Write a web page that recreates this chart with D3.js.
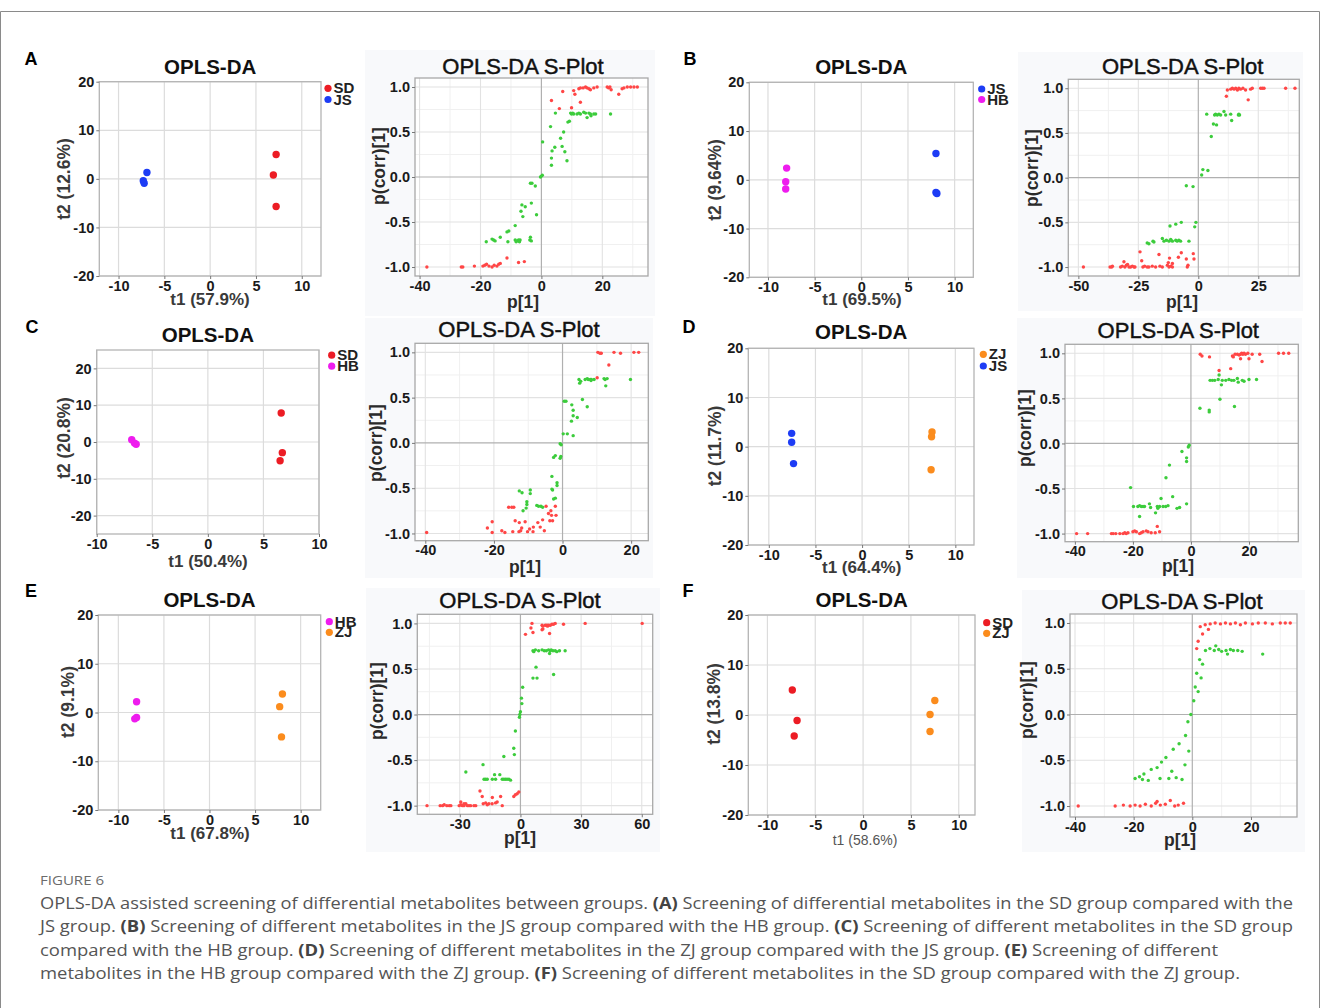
<!DOCTYPE html>
<html><head><meta charset="utf-8">
<script src="https://cdn.jsdelivr.net/npm/d3@7"></script>
<style>body{margin:0;background:#fff} svg{display:block}</style>
</head><body><svg id="c" width="1320" height="1008"></svg>
<script>
// ---------------- DATA ----------------
// Score plots (t1, t2)
const scoreA_SD = [[7.2,5.0],[6.9,0.8],[7.2,-5.7]];
const scoreA_JS = [[-6.9,1.3],[-7.3,-0.4],[-7.2,-0.9]];
const scoreB_JS = [[8.0,5.4],[8.0,-2.6],[8.1,-2.8]];
const scoreB_HB = [[-8.0,2.4],[-8.1,-0.4],[-8.1,-1.9]];
const scoreC_SD = [[6.6,7.9],[6.7,-2.9],[6.5,-5.1]];
const scoreC_HB = [[-6.85,0.6],[-6.6,-0.3],[-6.45,-0.6]];
const scoreD_ZJ = [[7.5,3.0],[7.45,2.0],[7.4,-4.7]];
const scoreD_JS = [[-7.55,2.7],[-7.55,0.9],[-7.35,-3.45]];
const scoreE_HB = [[-8.0,2.2],[-8.0,-1.0],[-8.2,-1.3]];
const scoreE_ZJ = [[8.0,3.8],[7.7,1.2],[7.9,-5.0]];
const scoreF_SD = [[-7.4,5.0],[-6.9,-1.1],[-7.2,-4.2]];
const scoreF_ZJ = [[7.5,2.9],[7.0,0.1],[7.0,-3.3]];

const legendA = ["SD","JS"], legendB = ["JS","HB"], legendC = ["SD","HB"];
const legendD = ["ZJ","JS"], legendE = ["HB","ZJ"], legendF = ["SD","ZJ"];
const axisLabelsX = ["t1 (57.9%)","t1 (69.5%)","t1 (50.4%)","t1 (64.4%)","t1 (67.8%)","t1 (58.6%)"];
const axisLabelsY = ["t2 (12.6%)","t2 (9.64%)","t2 (20.8%)","t2 (11.7%)","t2 (9.1%)","t2 (13.8%)"];
const panelLetters = ["A","B","C","D","E","F"];

const scoreTicksX = [-10,-5,0,5,10];
const scoreTicksY = [-20,-10,0,10,20];
const splotTicksY = [-1.0,-0.5,0.0,0.5,1.0];
const splotMinorY = [-0.75,-0.25,0.25,0.75];
const splotTicksX_A = [-40,-20,0,20], splotMinorX_A = [-30,-10,10,30];
const splotTicksX_B = [-50,-25,0,25], splotMinorX_B = [-37.5,-12.5,12.5,37.5];
const splotTicksX_C = [-40,-20,0,20], splotMinorX_C = [-30,-10,10];
const splotTicksX_D = [-40,-20,0,20], splotMinorX_D = [-30,-10,10,30];
const splotTicksX_E = [-30,0,30,60], splotMinorX_E = [-45,-15,15,45];
const splotTicksX_F = [-40,-20,0,20], splotMinorX_F = [-30,-10,10,30];

// S-plot points (p[1], p(corr)[1])
const splotA_red = [[7.0,0.95],[10.6,0.96],[11.0,0.92],[12.3,0.98],[12.8,0.99],[13.7,0.99],[14.5,1.0],[15.0,0.99],[15.6,0.98],[16.1,0.97],[17.2,0.99],[18.3,1.0],[21.6,1.0],[22.1,0.99],[22.5,1.0],[22.9,0.97],[25.4,0.92],[26.5,0.98],[27.1,0.99],[28.2,1.0],[29.3,1.0],[30.4,1.0],[31.5,1.0],[3.3,0.85],[5.9,0.76],[9.9,0.77],[12.8,0.83],
 [-37.6,-1.0],[-26.3,-1.0],[-25.8,-1.0],[-22,-0.99],[-19.2,-0.99],[-18.6,-0.98],[-18.0,-0.97],[-17.2,-0.99],[-16.2,-1.0],[-15.5,-0.98],[-14.6,-0.99],[-14.0,-0.97],[-13.5,-0.96],[-11.3,-0.9],[-7.5,-0.95],[-5.6,-0.94]];
const splotA_green = [[4.6,0.71],[9.6,0.71],[9.9,0.70],[10.3,0.71],[10.6,0.70],[11.7,0.70],[12.3,0.71],[12.8,0.70],[13.9,0.72],[14.5,0.71],[15.0,0.66],[15.6,0.71],[16.1,0.70],[17.2,0.70],[17.8,0.70],[22.7,0.70],[16.3,0.68],
 [3.0,0.56],[0.4,0.39],[3.5,0.29],[4.4,0.33],[3.3,0.21],[3.3,0.13],[6.3,0.43],[7.3,0.50],[6.8,0.34],[7.7,0.28],[8.4,0.18],[8.7,0.61],[9.2,0.62],
 [-0.3,0.0],[0.0,0.01],[0.3,0.02],
 [-3.6,-0.07],[-3.1,-0.07],[-2.0,-0.10],[-1.6,-0.42],[-3.3,-0.29],[-6.4,-0.31],[-5.3,-0.33],[-6.7,-0.38],[-6.1,-0.44],[-8.6,-0.54],[-10.7,-0.60],[-11.3,-0.61],[-13.5,-0.67],[-11.0,-0.72],[-8.6,-0.70],[-8.0,-0.71],[-7.5,-0.70],[-7.0,-0.70],[-8.3,-0.72],[-7.2,-0.72],[-3.6,-0.67],[-3.3,-0.71],[-3.8,-0.70],[-18.1,-0.72],[-16.2,-0.69],[-15.7,-0.70],[-15.2,-0.71]];

const splotB_red = [[12.1,0.98],[13.5,0.99],[14.2,1.0],[14.9,0.99],[15.6,1.0],[16.3,0.98],[16.9,1.0],[17.6,0.99],[18.6,1.0],[19.7,0.98],[21.8,0.99],[22.5,1.0],[26.0,1.0],[26.7,1.0],[27.4,1.0],[36.4,1.0],[40.3,1.0],[11.7,0.91],[20.8,0.87],
 [-47.9,-1.0],[-36.8,-1.0],[-36.1,-1.0],[-35.8,-0.99],[-32.4,-1.0],[-31.7,-0.99],[-30.6,-1.0],[-30.0,-0.98],[-28.9,-1.0],[-28.2,-1.0],[-27.5,-0.99],[-26.8,-1.0],[-26.4,-1.0],[-23.1,-1.0],[-22.4,-0.99],[-21.3,-1.0],[-20.6,-1.0],[-19.2,-0.99],[-17.8,-1.0],[-16.0,-0.99],[-15.0,-1.0],[-12.9,-0.98],[-12.2,-1.0],[-11.5,-0.99],[-10.8,-1.0],[-4.6,-1.0],
 [-24.3,-0.83],[-31,-0.94],[-29.5,-0.97],[-23.6,-0.93],[-16.4,-0.86],[-12,-0.9],[-12.5,-0.95],[-8.3,-0.89],[-7.1,-0.84],[-5,-0.91],[-2.1,-0.85],[-1.8,-0.91],[-4.3,-0.98],[-10.8,-0.96]];
const splotB_green = [[3.5,0.71],[6.8,0.70],[7.2,0.71],[7.9,0.70],[8.6,0.71],[9.3,0.70],[10.7,0.74],[11.4,0.70],[13.5,0.71],[16.7,0.70],[16.9,0.71],[17.2,0.70],
 [6.3,0.60],[7.6,0.59],[5.4,0.46],[13.9,0.64],[1.4,0.03],[1.9,0.09],[4.0,0.08],
 [-5,-0.09],[-2.2,-0.10],[-1,-0.50],[-1.5,-0.55],[-7.1,-0.50],[-9.4,-0.52],[-11.8,-0.54],
 [-21.3,-0.73],[-20.6,-0.74],[-18.9,-0.71],[-18.5,-0.72],[-15.0,-0.68],[-14.3,-0.71],[-13.3,-0.70],[-12.2,-0.71],[-11.5,-0.69],[-10.8,-0.71],[-9.4,-0.70],[-8.8,-0.71],[-8.1,-0.70],[-7.4,-0.71],[-3.9,-0.71]];

const splotC_red = [[10.3,1.0],[10.9,0.99],[11.3,0.99],[15.0,1.0],[16.9,0.99],[20.8,1.0],[22.2,1.0],[13.5,0.86],[10.1,0.72],
 [-39.6,-0.99],[-21.9,-0.94],[-20.5,-0.87],[-20.5,-0.99],[-17.7,-0.97],[-15.7,-0.71],[-14.8,-0.71],[-14.2,-0.71],[-14.5,-0.98],[-13.8,-0.86],[-12.7,-0.98],[-12.2,-0.97],[-11.9,-0.94],[-10.9,-0.87],[-10.2,-0.98],[-9.6,-0.95],[-8.5,-0.93],[-8.6,-0.98],[-12.6,-0.88],[-7.2,-0.88],[-5.8,-0.85],[-5.3,-0.97],[-4.8,-0.70],[-4.1,-0.78],[-3.4,-0.75],[-3.2,-0.80],[-2.9,-0.86],[-3.7,-0.86],[-1.9,-0.80],[-2.1,-0.70],[-6.5,-0.93],[-16.8,-0.99]];
const splotC_green = [[4.8,0.70],[5.0,0.66],[6.6,0.70],[7.2,0.71],[7.5,0.70],[8.1,0.70],[8.3,0.69],[8.4,0.70],[9.2,0.70],[12.1,0.71],[12.4,0.70],[13.0,0.71],[19.8,0.70],[5.3,0.68],[12.6,0.63],
 [0.5,0.46],[1.0,0.46],[2.7,0.42],[3.1,0.36],[3.1,0.30],[4.3,0.28],[2.6,0.24],[5.8,0.48],[7.2,0.40],[0.2,0.10],[1.4,0.10],[3.1,0.08],
 [-0.7,-0.01],[-0.4,-0.02],
 [-2.1,-0.14],[-2.6,-0.16],[-0.7,-0.17],[-0.5,-0.15],[-3.1,-0.37],[-1.6,-0.44],[-1.6,-0.47],[-3.1,-0.51],[-2.9,-0.52],[-2.6,-0.62],[-2.1,-0.61],[-12.6,-0.53],[-11.8,-0.55],[-9.4,-0.52],[-9.4,-0.56],[-10.4,-0.65],[-10.4,-0.68],[-10.6,-0.72],[-7.5,-0.69],[-7.0,-0.70],[-6.3,-0.70],[-5.8,-0.71],[-11.5,-0.75]];

const splotD_red = [[3.2,0.99],[3.8,0.97],[6.4,0.96],[14.3,0.97],[14.6,0.96],[15.2,0.99],[16.0,0.99],[16.6,0.98],[17.1,0.99],[17.5,1.0],[17.9,0.99],[18.3,1.0],[18.8,0.99],[19.6,1.0],[21.1,0.99],[23.7,0.99],[30.2,1.0],[31.9,1.0],[33.7,1.0],[17.1,0.94],[20.0,0.94],[24.5,0.91],[13.7,0.83],[9.7,0.81],
 [-39.4,-1.0],[-35.6,-1.0],[-27.4,-1.0],[-26.8,-1.0],[-25.9,-1.0],[-24.5,-1.0],[-23.4,-1.0],[-22.8,-0.99],[-22.3,-1.0],[-21.7,-0.99],[-20.0,-0.98],[-19.4,-0.97],[-17.7,-1.0],[-17.1,-0.99],[-16.5,-0.98],[-15.4,-0.97],[-14.8,-0.98],[-13.7,-0.99],[-12.3,-0.99],[-10.8,-0.98],[-18.8,-0.98],[-11.6,-0.92]];
const splotD_green = [[6.6,0.70],[7.4,0.70],[8.2,0.70],[9.4,0.71],[10.8,0.70],[12.0,0.70],[13.1,0.71],[14.0,0.70],[14.8,0.70],[16.0,0.72],[16.3,0.68],[17.7,0.70],[18.3,0.69],[20.0,0.71],[22.6,0.71],[9.7,0.76],[10.5,0.65],[10.0,0.49],[3.1,0.39],[6.3,0.37],[6.3,0.35],[15.0,0.41],
 [-0.6,-0.02],[-0.9,-0.04],
 [-3.1,-0.09],[-1.5,-0.16],[-1.5,-0.20],[-7.4,-0.24],[-8.6,-0.38],[-6.3,-0.59],[-10.3,-0.61],[-14.3,-0.67],[-20.8,-0.49],[-19.8,-0.70],[-18.3,-0.70],[-17.7,-0.69],[-17.1,-0.70],[-16.5,-0.70],[-16.0,-0.70],[-17.7,-0.81],[-13.9,-0.71],[-11.6,-0.70],[-11.4,-0.72],[-10.8,-0.70],[-9.6,-0.70],[-8.7,-0.70],[-7.9,-0.69],[-4.8,-0.72],[-3.9,-0.71],[-1.5,-0.67],[-12.2,-0.77]];

const splotE_red = [[5.7,1.0],[10.7,0.98],[11.1,0.97],[12.3,0.98],[13.1,0.98],[13.4,0.97],[13.9,0.98],[14.8,0.98],[15.6,0.99],[16.4,0.99],[17.2,1.0],[21.3,0.99],[32.0,1.0],[60.2,1.0],[5.2,0.95],[6.2,0.90],[2.5,0.88],[10.7,0.93],[11.1,0.94],[14.4,0.89],
 [-46.2,-1.0],[-39.7,-1.0],[-38.5,-1.0],[-37.7,-0.99],[-36.4,-1.0],[-35.2,-1.0],[-34.4,-1.0],[-30.3,-1.0],[-29.5,-0.99],[-28.7,-1.0],[-27.9,-1.0],[-27.0,-0.98],[-26.2,-1.0],[-25.4,-1.0],[-24.6,-1.0],[-23.0,-1.0],[-22.1,-1.0],[-29.5,-0.96],[-27.9,-0.98],[-20.0,-0.84],[-18.9,-0.90],[-18.4,-0.98],[-17.2,-0.97],[-16.4,-0.99],[-15.6,-0.98],[-13.9,-0.91],[-12.3,-0.97],[-11.5,-0.96],[-9.8,-0.90],[-9.0,-1.0],[-14.0,-0.98],[-3.3,-0.90],[-2.5,-0.88],[-1.6,-0.87],[-0.8,-0.85]];
const splotE_green = [[6.2,0.70],[6.6,0.69],[7.4,0.71],[9.0,0.70],[10.7,0.71],[11.8,0.70],[12.8,0.70],[13.9,0.71],[14.8,0.70],[15.2,0.71],[16.1,0.70],[17.2,0.70],[18.0,0.69],[19.3,0.70],[22.1,0.70],[14.4,0.67],
 [7.7,0.52],[6.2,0.40],[8.2,0.40],[16.4,0.44],
 [1.1,0.30],[0.5,0.18],[0.7,0.12],[0.0,0.03],[-0.3,0.0],[-0.5,-0.03],
 [-2.5,-0.18],[-3.3,-0.37],[-3.0,-0.44],[-8.2,-0.46],[-18.5,-0.55],[-27.0,-0.63],
 [-18.0,-0.71],[-17.2,-0.71],[-16.4,-0.71],[-13.9,-0.71],[-12.8,-0.66],[-12.3,-0.71],[-10.2,-0.66],[-9.0,-0.71],[-8.2,-0.71],[-7.4,-0.71],[-6.6,-0.71],[-5.7,-0.71],[-4.9,-0.72]];

const splotF_red = [[2.7,0.96],[4.4,0.98],[6.1,0.99],[7.8,1.0],[9.6,0.99],[11.3,1.0],[13.0,0.99],[14.7,1.0],[16.4,0.98],[18.1,1.0],[20.5,0.99],[22.5,1.0],[24.9,1.0],[27.3,0.99],[30.0,1.0],[31.7,1.0],[33.4,1.0],
 [2.0,0.80],[3.5,0.88],[5.5,0.93],[1.5,0.72],
 [-38.9,-1.0],[-26.3,-1.0],[-23.5,-0.99],[-21.2,-1.0],[-19.5,-0.99],[-17.8,-1.0],[-16.0,-0.98],[-14.0,-1.0],[-12.5,-0.97],[-10.9,-0.99],[-9.2,-0.98],[-7.5,-0.94],[-4.8,-0.99],[-3.0,-0.97],[-12.0,-0.95],[-6.0,-1.0]];
const splotF_green = [[4.5,0.70],[6.0,0.72],[7.5,0.70],[9.0,0.71],[10.0,0.69],[11.5,0.70],[13.0,0.71],[14.0,0.70],[15.5,0.70],[17.0,0.69],[24.0,0.66],[8.0,0.75],[12.0,0.66],
 [2.5,0.60],[3.5,0.55],[1.5,0.45],[3.0,0.40],[1.0,0.30],[2.0,0.25],[0.5,0.15],[-0.5,0.0],[-1.5,-0.08],
 [-2.3,-0.23],[-4.5,-0.32],[-6.5,-0.38],[-9.0,-0.47],[-10.5,-0.52],[-12.0,-0.58],[-14.0,-0.60],[-16.5,-0.65],[-18.0,-0.68],[-19.5,-0.70],[-17.0,-0.71],[-15.0,-0.72],[-11.0,-0.70],[-8.0,-0.70],[-5.5,-0.69],[-3.5,-0.71],[-2.5,-0.55],[-1.2,-0.40],[-7.0,-0.62]];

const captionLines = [
 [["OPLS-DA assisted screening of differential metabolites between groups. ",0],["(A)",1],[" Screening of differential metabolites in the SD group compared with the",0]],
 [["JS group. ",0],["(B)",1],[" Screening of different metabolites in the JS group compared with the HB group. ",0],["(C)",1],[" Screening of different metabolites in the SD group",0]],
 [["compared with the HB group. ",0],["(D)",1],[" Screening of different metabolites in the ZJ group compared with the JS group. ",0],["(E)",1],[" Screening of different",0]],
 [["metabolites in the HB group compared with the ZJ group. ",0],["(F)",1],[" Screening of different metabolites in the SD group compared with the ZJ group.",0]]
];

// ---------------- COLORS / LAYOUT ----------------
const C = {red:"#ec1c24", blue:"#1d3cf5", magenta:"#ee1cee", orange:"#fb8c1d", sRed:"#ff4646", sGreen:"#3ccc3c"};
const FONT = "'Liberation Sans', Arial, Helvetica, sans-serif";

const svg = d3.select("#c");
svg.append("rect").attr("width",1320).attr("height",1008).attr("fill","#fff");
svg.append("path").attr("d","M0.5,1008 V11.5 H1319.5 V1008").attr("fill","none").attr("stroke","#8a8a8a").attr("stroke-width",1);

function scorePlot(L, groups, names, idx, yTicks, small) {
  const g = svg.append("g");
  const x = d3.scaleLinear().domain(L.xd).range([L.l, L.r]);
  const y = d3.scaleLinear().domain(L.yd).range([L.b, L.t]);
  g.append("rect").attr("x",L.l).attr("y",L.t).attr("width",L.r-L.l).attr("height",L.b-L.t).attr("fill","#fff");
  g.selectAll(".gx").data(scoreTicksX).join("line").attr("x1",d=>x(d)).attr("x2",d=>x(d)).attr("y1",L.t).attr("y2",L.b).attr("stroke","#dcdcdc").attr("stroke-width",1.2);
  g.selectAll(".gy").data(yTicks).join("line").attr("y1",d=>y(d)).attr("y2",d=>y(d)).attr("x1",L.l).attr("x2",L.r).attr("stroke","#dcdcdc").attr("stroke-width",1.2);
  g.append("rect").attr("x",L.l).attr("y",L.t).attr("width",L.r-L.l).attr("height",L.b-L.t).attr("fill","none").attr("stroke","#b4b4b4").attr("stroke-width",1.3);
  const ax = g.append("g").attr("transform",`translate(0,${L.b})`).call(d3.axisBottom(x).tickValues(scoreTicksX).tickSize(3).tickPadding(1.5).tickFormat(d=>String(d)));
  const ay = g.append("g").attr("transform",`translate(${L.l},0)`).call(d3.axisLeft(y).tickValues(yTicks).tickSize(3).tickPadding(2).tickFormat(d=>String(d)));
  [ax,ay].forEach(a=>{a.select(".domain").remove(); a.selectAll("line").attr("stroke","#777");
    a.selectAll("text").attr("font-family",FONT).attr("font-weight","bold").attr("font-size",14.5).attr("fill","#1a1a1a");});
  groups.forEach(gr=>{
    g.selectAll(null).data(gr.pts).join("circle").attr("cx",d=>x(d[0])).attr("cy",d=>y(d[1])).attr("r",3.7).attr("fill",gr.color);
  });
  g.append("text").attr("x",(L.l+L.r)/2).attr("y",L.tY).attr("text-anchor","middle").attr("font-family",FONT).attr("font-weight","bold").attr("font-size",20.5).attr("fill","#111").text("OPLS-DA");
  names.forEach((n,i)=>{
    const cy = L.lg[1+i];
    g.append("circle").attr("cx",L.lg[0]).attr("cy",cy).attr("r",3.6).attr("fill",groups[i].color);
    g.append("text").attr("x",L.lg[0]+5.5).attr("y",cy+5).attr("font-family",FONT).attr("font-weight","bold").attr("font-size",15).attr("fill","#222").text(n);
  });
  const xl = g.append("text").attr("x",L.xlX).attr("y",L.xlY).attr("text-anchor","middle").attr("font-family",FONT).attr("fill","#3a3a3a").text(axisLabelsX[idx]);
  if (small) xl.attr("font-size",14).attr("font-weight","normal").attr("fill","#555"); else xl.attr("font-size",17).attr("font-weight","bold");
  g.append("text").attr("transform",`translate(${L.ylX},${L.ylY}) rotate(-90)`).attr("text-anchor","middle").attr("dy","0.35em").attr("font-family",FONT).attr("font-weight","bold").attr("font-size",17.5).attr("fill","#3a3a3a").text(axisLabelsY[idx]);
  g.append("text").attr("x",L.let[0]).attr("y",L.let[1]).attr("font-family",FONT).attr("font-weight","bold").attr("font-size",18).attr("fill","#000").attr("text-anchor","middle").text(panelLetters[idx]);
}

function sPlot(L, red, green, xTicks, xMinor) {
  const g = svg.append("g");
  g.append("rect").attr("x",L.bg[0]).attr("y",L.bg[1]).attr("width",L.bg[2]-L.bg[0]).attr("height",L.bg[3]-L.bg[1]).attr("fill","#f8f9fb");
  const x = d3.scaleLinear().domain(L.xd).range([L.l, L.r]);
  const y = d3.scaleLinear().domain(L.yd).range([L.b, L.t]);
  g.append("rect").attr("x",L.l).attr("y",L.t).attr("width",L.r-L.l).attr("height",L.b-L.t).attr("fill","#fff");
  g.selectAll(null).data(xMinor).join("line").attr("x1",d=>x(d)).attr("x2",d=>x(d)).attr("y1",L.t).attr("y2",L.b).attr("stroke","#f0f0f0");
  g.selectAll(null).data(splotMinorY).join("line").attr("y1",d=>y(d)).attr("y2",d=>y(d)).attr("x1",L.l).attr("x2",L.r).attr("stroke","#f0f0f0");
  g.selectAll(null).data(xTicks.filter(d=>d!==0)).join("line").attr("x1",d=>x(d)).attr("x2",d=>x(d)).attr("y1",L.t).attr("y2",L.b).attr("stroke","#e2e2e2").attr("stroke-width",1.1);
  g.selectAll(null).data(splotTicksY.filter(d=>d!==0)).join("line").attr("y1",d=>y(d)).attr("y2",d=>y(d)).attr("x1",L.l).attr("x2",L.r).attr("stroke","#e2e2e2").attr("stroke-width",1.1);
  g.append("line").attr("x1",x(0)).attr("x2",x(0)).attr("y1",L.t).attr("y2",L.b).attr("stroke","#b0b0b0").attr("stroke-width",1.2);
  g.append("line").attr("y1",y(0)).attr("y2",y(0)).attr("x1",L.l).attr("x2",L.r).attr("stroke","#b0b0b0").attr("stroke-width",1.2);
  g.append("rect").attr("x",L.l).attr("y",L.t).attr("width",L.r-L.l).attr("height",L.b-L.t).attr("fill","none").attr("stroke","#a8a8a8").attr("stroke-width",1.3);
  const ax = g.append("g").attr("transform",`translate(0,${L.b})`).call(d3.axisBottom(x).tickValues(xTicks).tickSize(3).tickPadding(1.5).tickFormat(d=>String(d)));
  const ay = g.append("g").attr("transform",`translate(${L.l},0)`).call(d3.axisLeft(y).tickValues(splotTicksY).tickSize(3).tickPadding(2).tickFormat(d=>d.toFixed(1)));
  [ax,ay].forEach(a=>{a.select(".domain").remove(); a.selectAll("line").attr("stroke","#777");
    a.selectAll("text").attr("font-family",FONT).attr("font-weight","bold").attr("font-size",14.5).attr("fill","#1a1a1a");});
  g.selectAll(null).data(green).join("circle").attr("cx",d=>x(d[0])).attr("cy",d=>y(d[1])).attr("r",1.7).attr("fill",C.sGreen);
  g.selectAll(null).data(red).join("circle").attr("cx",d=>x(d[0])).attr("cy",d=>y(d[1])).attr("r",1.7).attr("fill",C.sRed);
  g.append("text").attr("x",L.tX).attr("y",L.tY).attr("text-anchor","middle").attr("font-family",FONT).attr("font-size",22).attr("fill","#111").attr("stroke","#111").attr("stroke-width",0.45).text("OPLS-DA S-Plot");
  g.append("text").attr("x",L.xlX).attr("y",L.xlY).attr("text-anchor","middle").attr("font-family",FONT).attr("font-weight","bold").attr("font-size",17.5).attr("fill","#2a2a2a").text("p[1]");
  g.append("text").attr("transform",`translate(${L.ylX},${L.ylY}) rotate(-90)`).attr("text-anchor","middle").attr("dy","0.35em").attr("font-family",FONT).attr("font-weight","bold").attr("font-size",17.5).attr("fill","#2a2a2a").text("p(corr)[1]");
}

// score plots
scorePlot({l:99.3,r:321,t:81.7,b:276,xd:[-12.1,12.1],yd:[-20,20],tY:74,lg:[328,88.3,99.5],xlX:210,xlY:305,ylX:64,ylY:179,let:[31,65]},
  [{pts:scoreA_SD,color:C.red},{pts:scoreA_JS,color:C.blue}], legendA, 0, scoreTicksY);
scorePlot({l:749.3,r:973.3,t:82.3,b:277.3,xd:[-12,12],yd:[-20,20],tY:74,lg:[981.7,89,99.5],xlX:862,xlY:305,ylX:715,ylY:180,let:[690,65]},
  [{pts:scoreB_JS,color:C.blue},{pts:scoreB_HB,color:C.magenta}], legendB, 1, scoreTicksY);
scorePlot({l:96.7,r:319,t:350,b:534,xd:[-10,10],yd:[-25,25],tY:342,lg:[331.7,355.2,366.2],xlX:208,xlY:566.7,ylX:64,ylY:438,let:[32,333]},
  [{pts:scoreC_SD,color:C.red},{pts:scoreC_HB,color:C.magenta}], legendC, 2, scoreTicksY);
scorePlot({l:748.3,r:974,t:348.3,b:545,xd:[-12.2,12],yd:[-20,20],tY:338.5,lg:[983.3,354.3,366],xlX:861.7,xlY:573,ylX:715,ylY:446,let:[689,333.3]},
  [{pts:scoreD_ZJ,color:C.orange},{pts:scoreD_JS,color:C.blue}], legendD, 3, scoreTicksY);
scorePlot({l:98.3,r:320.7,t:615,b:810,xd:[-12.2,12.2],yd:[-20,20],tY:606.7,lg:[329.3,621.7,632.3],xlX:210,xlY:839,ylX:68,ylY:702,let:[31,596.7]},
  [{pts:scoreE_HB,color:C.magenta},{pts:scoreE_ZJ,color:C.orange}], legendE, 4, scoreTicksY);
scorePlot({l:748.3,r:975,t:615,b:815,xd:[-12,11.7],yd:[-20,20],tY:606.7,lg:[986.7,622.7,633.3],xlX:865,xlY:845,ylX:714,ylY:704,let:[688,596.7]},
  [{pts:scoreF_SD,color:C.red},{pts:scoreF_ZJ,color:C.orange}], legendF, 5, scoreTicksY, true);

// S-plots
sPlot({l:415,r:648,t:78,b:276,xd:[-41.5,35],yd:[-1.1,1.1],tX:523,tY:74,xlX:523,xlY:308,ylX:379,ylY:166,bg:[365,50,655,316]}, splotA_red, splotA_green, splotTicksX_A, splotMinorX_A);
sPlot({l:1068.3,r:1299.3,t:79.3,b:276,xd:[-54.2,42.1],yd:[-1.1,1.1],tX:1182.7,tY:74,xlX:1182,xlY:308,ylX:1032,ylY:168,bg:[1018,52,1303,311]}, splotB_red, splotB_green, splotTicksX_B, splotMinorX_B);
sPlot({l:415,r:648.3,t:343.3,b:540.7,xd:[-43,25],yd:[-1.08,1.1],tX:519,tY:337,xlX:525,xlY:573,ylX:376,ylY:443,bg:[365,318,653,578]}, splotC_red, splotC_green, splotTicksX_C, splotMinorX_C);
sPlot({l:1065,r:1298.3,t:344.3,b:541.7,xd:[-43.4,37],yd:[-1.09,1.1],tX:1178.3,tY:338,xlX:1178,xlY:572,ylX:1025,ylY:428,bg:[1017,318,1302,578]}, splotD_red, splotD_green, splotTicksX_D, splotMinorX_D);
sPlot({l:417.3,r:652.7,t:614.3,b:814.3,xd:[-51,65.4],yd:[-1.095,1.1],tX:520,tY:608.3,xlX:520,xlY:844,ylX:377,ylY:701,bg:[366,588,660,852]}, splotE_red, splotE_green, splotTicksX_E, splotMinorX_E);
sPlot({l:1070,r:1297,t:614,b:817,xd:[-41.7,35.7],yd:[-1.12,1.098],tX:1182,tY:609,xlX:1180,xlY:846,ylX:1027,ylY:700,bg:[1022,590,1305,852]}, splotF_red, splotF_green, splotTicksX_F, splotMinorX_F);

// caption
const CAPFONT = "'Open Sans', 'Noto Sans', sans-serif";
svg.append("text").attr("x",40).attr("y",885).attr("font-family",CAPFONT).attr("font-size",13).attr("fill","#6b6b6b").attr("textLength",64).attr("lengthAdjust","spacingAndGlyphs").text("FIGURE 6");
const capY = [909, 932, 955.5, 979];
const capW = [1253, 1253, 1178, 1200];
captionLines.forEach((line,i)=>{
  const t = svg.append("text").attr("x",40).attr("y",capY[i]).attr("font-family",CAPFONT).attr("font-size",16.5).attr("fill","#555")
    .attr("textLength",capW[i]).attr("lengthAdjust","spacingAndGlyphs");
  line.forEach(seg=>{ t.append("tspan").attr("font-weight",seg[1]?"bold":"normal").attr("fill",seg[1]?"#444":"#555").text(seg[0]); });
});
</script></body></html>
